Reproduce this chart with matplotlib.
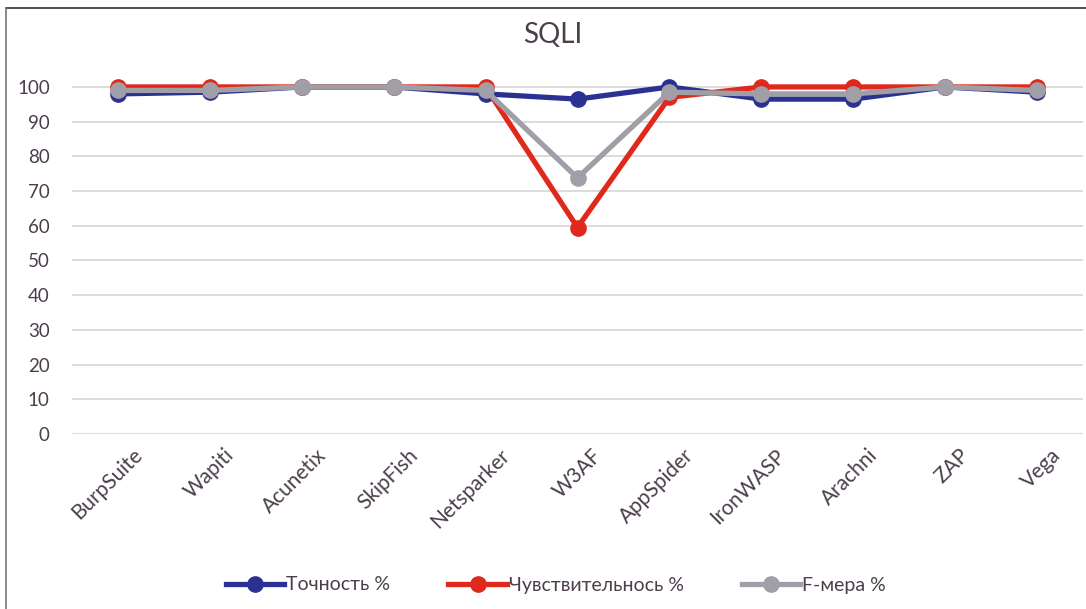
import matplotlib
matplotlib.use("Agg")
import matplotlib.pyplot as plt
from matplotlib.lines import Line2D
from matplotlib.transforms import ScaledTranslation

plt.rcParams['font.family'] = ['Lato', 'DejaVu Sans']

tools = ["BurpSuite", "Wapiti", "Acunetix", "SkipFish", "Netsparker", "W3AF",
         "AppSpider", "IronWASP", "Arachni", "ZAP", "Vega"]
precision = [98, 98.5, 100, 100, 98, 96.5, 100, 96.5, 96.5, 100, 98.5]
recall = [100, 100, 100, 100, 100, 59.5, 97, 100, 100, 100, 100]
fmeasure = [99, 99, 100, 100, 99, 73.8, 98.5, 98, 98, 100, 99]

labels = ["Точность %", "Чувствительнось %", "F-мера %"]
colors = ["#2B3192", "#E0281C", "#A09EA6"]
txt = "#4B3F4B"

fig = plt.figure(figsize=(10.86, 6.09), dpi=100)
ax = fig.add_axes([72/1086, (609-434)/609, (1083-72)/1086, (434-69.6)/609])

x = range(len(tools))
for vals, c, lab in zip([precision, recall, fmeasure], colors, labels):
    ax.plot(x, vals, color=c, lw=3.8, marker="o", ms=11, label=lab,
            clip_on=False, solid_joinstyle="round")

ax.set_xlim(-0.5, len(tools) - 0.5)
ax.set_ylim(0, 105)
ax.set_yticks(range(0, 101, 10))
ax.yaxis.grid(True, color="#D9D9D9", lw=1.3)
ax.set_axisbelow(True)
for s in ax.spines.values():
    s.set_visible(False)
ax.tick_params(axis="y", length=0, labelsize=13.5, colors=txt, pad=16)
ax.set_xticks(list(x))
ax.set_xticklabels(tools, rotation=45, ha="right", rotation_mode="anchor")
ax.tick_params(axis="x", length=0, labelsize=15, colors=txt, pad=8)
shift = ScaledTranslation(0.14, 0, fig.dpi_scale_trans)
for lbl in ax.get_xticklabels():
    lbl.set_transform(lbl.get_transform() + shift)

fig.text(553/1086, 1 - 35/609, "SQLI", ha="center", va="center",
         fontsize=20, color=txt)

handles = [Line2D([], [], color=c, lw=3.8, marker="o", ms=11) for c in colors]
fig.legend(handles, labels, loc="center", bbox_to_anchor=(556/1086, 1 - 585/609),
           ncol=3, frameon=False, fontsize=14, labelcolor=txt,
           handlelength=3.0, handletextpad=0.1, columnspacing=3.0)

# frame of the pasted chart (top and left edges visible)
fig.add_artist(Line2D([6/1086, 1], [1 - 8/609, 1 - 8/609], color="#333333", lw=1.2))
fig.add_artist(Line2D([6/1086, 6/1086], [0, 1 - 8/609], color="#777777", lw=1.2))

fig.savefig("out.png", dpi=100)
